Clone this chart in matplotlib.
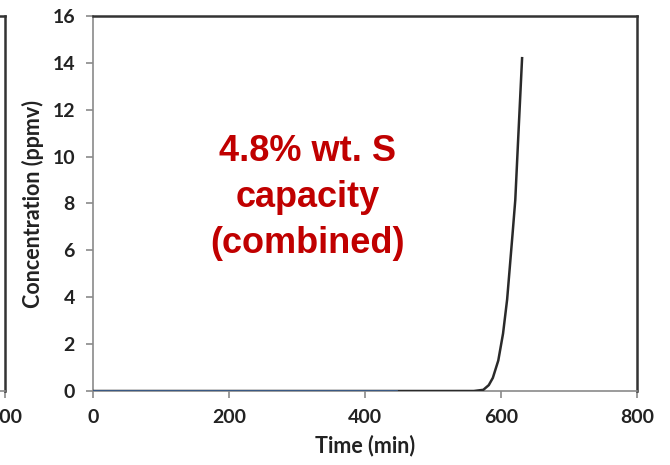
import matplotlib.pyplot as plt

# Breakthrough curve
time_min = [0, 100, 200, 300, 400, 500, 560, 574, 582, 588, 596, 603, 609, 613, 617, 621, 625, 628, 631]
conc_ppmv = [0, 0, 0, 0, 0, 0, 0, 0.05, 0.25, 0.56, 1.3, 2.45, 3.9, 5.3, 6.7, 8.15, 10.6, 12.4, 14.2]

# short blue trace lying on the baseline
blue_time = [0, 445]
blue_conc = [0, 0]

x_ticks = [0, 200, 400, 600, 800]
y_ticks = [0, 2, 4, 6, 8, 10, 12, 14, 16]

W, H = 670, 465
fig = plt.figure(figsize=(W / 100, H / 100), dpi=100)
plt.rcParams['font.family'] = ['Lato', 'DejaVu Sans']

tick_color = "#222222"
dark = "#333333"
grey = "#8a8a8a"
tick_size = 14

# sliver of the neighbouring panel on the left edge
ax_l = fig.add_axes([-0.8, (H - 391) / H, 0.8 + 5 / W, (391 - 16) / H])
ax_l.set_xlim(0, 800)
ax_l.set_ylim(0, 16)
ax_l.set_xticks([800])
ax_l.set_xticklabels(["800"])
ax_l.set_yticks([])
ax_l.spines["left"].set_visible(False)
for s in ("top", "right"):
    ax_l.spines[s].set_color(dark)
    ax_l.spines[s].set_linewidth(1.8)
ax_l.spines["bottom"].set_color(grey)
ax_l.spines["bottom"].set_linewidth(1.2)
ax_l.tick_params(axis="x", direction="out", length=5, width=1.2, color=grey,
                 pad=8, labelsize=tick_size, labelcolor=tick_color)
for lab in ax_l.get_xticklabels():
    lab.set_fontweight("bold")

# main panel
ax = fig.add_axes([93 / W, (H - 391) / H, (637 - 93) / W, (391 - 16) / H])
ax.plot(time_min, conc_ppmv, color="#2a2a2a", linewidth=1.8, zorder=3)
ax.plot(blue_time, blue_conc, color="#3d5f8f", linewidth=2.0, zorder=4)

ax.set_xlim(0, 800)
ax.set_ylim(0, 16)
ax.set_xticks(x_ticks)
ax.set_yticks(y_ticks)
for s in ("top", "right"):
    ax.spines[s].set_color(dark)
    ax.spines[s].set_linewidth(1.8)
for s in ("left", "bottom"):
    ax.spines[s].set_color(grey)
    ax.spines[s].set_linewidth(1.2)
ax.tick_params(axis="both", direction="out", length=5, width=1.2, color=grey,
               pad=8, labelsize=tick_size, labelcolor=tick_color)
for lab in ax.get_xticklabels() + ax.get_yticklabels():
    lab.set_fontweight("bold")

ax.set_xlabel("Time (min)", fontsize=15.5, fontweight="bold", color=tick_color, labelpad=6)
ax.set_ylabel("Concentration (ppmv)", fontsize=15.5, fontweight="bold", color=tick_color, labelpad=6)

ax.text(316, 8.25, "4.8% wt. S\ncapacity\n(combined)", color="#c00000",
        fontsize=26, fontweight="bold", family="Liberation Sans",
        ha="center", va="center", linespacing=1.4)

fig.savefig("out.png", dpi=100, facecolor="white")
